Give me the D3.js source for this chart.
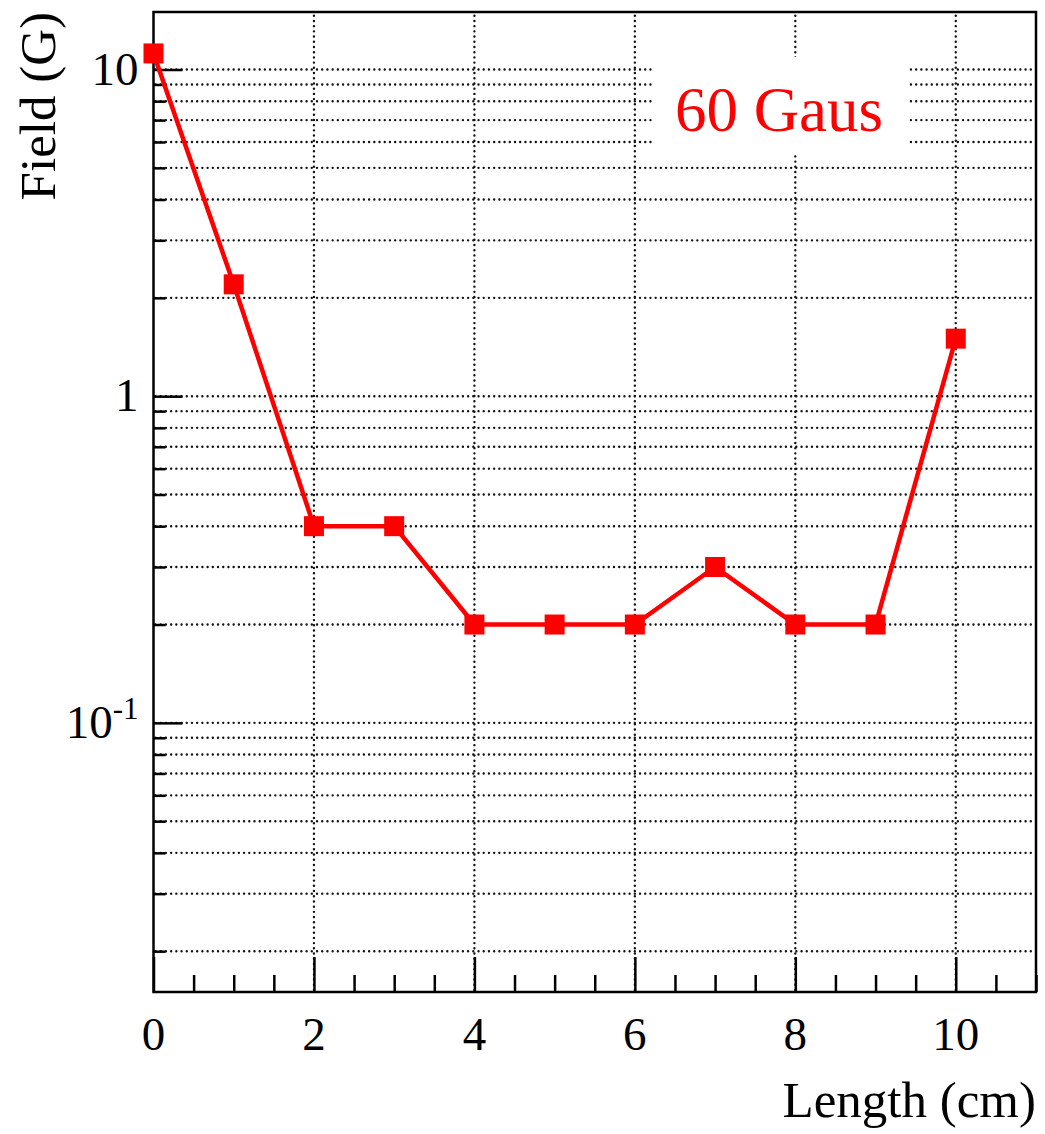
<!DOCTYPE html>
<html>
<head>
<meta charset="utf-8">
<script src="https://cdn.jsdelivr.net/npm/d3@7"></script>
<style>
  html, body { margin: 0; padding: 0; background: #fff; }
  svg { display: block; }
  text { font-family: "Liberation Serif", "Times New Roman", serif; fill: #000; }
</style>
</head>
<body>
<svg id="chart" width="1045" height="1134"></svg>
<script>
// Field along the length, measured every centimetre
const lengths = [0, 1, 2, 3, 4, 5, 6, 7, 8, 9, 10];
const field   = [11.2, 2.2, 0.4, 0.4, 0.2, 0.2, 0.2, 0.3, 0.2, 0.2, 1.5];

const xMajorTicks = [0, 2, 4, 6, 8, 10];
const xTickLabels = ["0", "2", "4", "6", "8", "10"];
const yMajorTicks = [10, 1, 0.1];
const yTickLabels = [["10", ""], ["1", ""], ["10", "-1"]];

const xTitle = "Length (cm)";
const yTitle = "Field (G)";
const legendText = "60 Gaus";

const frame = { left: 153.5, right: 1036, top: 12, bottom: 992 };

const svg = d3.select("#chart");

const x = d3.scaleLinear().domain([0, 11]).range([frame.left, frame.right]);
const y = d3.scaleLog().domain([0.015, 15]).range([frame.bottom, frame.top]);

// minor ticks: 2..9 per decade on y, every 0.5 on x
const yMinor = [];
[0.01, 0.1, 1, 10].forEach(d => {
  for (let k = 2; k <= 9; k++) {
    const v = d * k;
    if (v >= 0.015 && v <= 15) yMinor.push(v);
  }
});
const yAllTicks = yMajorTicks.concat(yMinor);
const xMinor = d3.range(0, 11.01, 0.5).filter(v => v % 2 !== 0);

// grid of round dots
const grid = svg.append("g").attr("stroke", "#111").attr("stroke-width", 2.4)
  .attr("stroke-linecap", "round")
  .attr("stroke-dasharray", "0.01,5.2").attr("fill", "none");
grid.selectAll("line.h").data(yAllTicks).join("line")
  .attr("class", "h")
  .attr("x1", frame.left + 2).attr("x2", frame.right - 2)
  .attr("y1", d => y(d)).attr("y2", d => y(d));
grid.selectAll("line.v").data(xMajorTicks.filter(d => d > 0)).join("line")
  .attr("class", "v")
  .attr("x1", d => x(d)).attr("x2", d => x(d))
  .attr("y1", frame.bottom - 2).attr("y2", frame.top + 2);

// legend box covers the grid
const legendG = svg.append("g");
legendG.append("rect")
  .attr("x", 652).attr("y", 57).attr("width", 256).attr("height", 98)
  .attr("fill", "#fff");
legendG.append("text")
  .attr("x", 779).attr("y", 131)
  .attr("text-anchor", "middle")
  .attr("font-size", 63)
  .style("fill", "#ff0000")
  .text(legendText);

// axes
function styleAxis(g) {
  g.select(".domain").remove();
  g.selectAll(".tick line").attr("stroke", "#000").attr("stroke-width", 2.5);
}

const xAxisMinor = d3.axisTop(x).tickValues(xMinor).tickSize(17).tickFormat("");
svg.append("g").attr("transform", `translate(0,${frame.bottom})`).call(xAxisMinor).call(styleAxis);

const xAxisMajor = d3.axisTop(x).tickValues(xMajorTicks).tickSize(35).tickFormat("");
svg.append("g").attr("transform", `translate(0,${frame.bottom})`).call(xAxisMajor).call(styleAxis);

const yAxisMinor = d3.axisRight(y).tickValues(yMinor).tickSize(12).tickFormat("");
svg.append("g").attr("transform", `translate(${frame.left},0)`).call(yAxisMinor).call(styleAxis);

const yAxisMajor = d3.axisRight(y).tickValues(yMajorTicks).tickSize(29).tickFormat("");
svg.append("g").attr("transform", `translate(${frame.left},0)`).call(yAxisMajor).call(styleAxis);

// tick labels
svg.append("g").selectAll("text").data(xMajorTicks).join("text")
  .attr("x", d => x(d)).attr("y", 1050)
  .attr("text-anchor", "middle")
  .attr("font-size", 47)
  .text((d, i) => xTickLabels[i]);

const yl = svg.append("g").selectAll("text").data(yMajorTicks).join("text")
  .attr("x", frame.left - 15)
  .attr("y", d => y(d) + 15)
  .attr("text-anchor", "end")
  .attr("font-size", 47);
yl.each(function(d, i) {
  const t = d3.select(this);
  const [base, sup] = yTickLabels[i];
  t.append("tspan").text(base);
  if (sup) {
    t.append("tspan").attr("font-size", 31).attr("dy", -19).text(sup);
  }
});

// frame
svg.append("rect")
  .attr("x", frame.left).attr("y", frame.top)
  .attr("width", frame.right - frame.left).attr("height", frame.bottom - frame.top)
  .attr("fill", "none").attr("stroke", "#000").attr("stroke-width", 2.5);

// data line and markers
const pts = lengths.map((l, i) => [l, field[i]]);
svg.append("path")
  .datum(pts)
  .attr("fill", "none")
  .attr("stroke", "#ff0000")
  .attr("stroke-width", 4.5)
  .attr("stroke-linejoin", "round")
  .attr("d", d3.line().x(d => x(d[0])).y(d => y(d[1])));

const ms = 20;
svg.append("g").selectAll("rect").data(pts).join("rect")
  .attr("x", d => x(d[0]) - ms / 2)
  .attr("y", d => y(d[1]) - ms / 2)
  .attr("width", ms).attr("height", ms)
  .attr("fill", "#ff0000");

// axis titles
svg.append("text")
  .attr("x", frame.right).attr("y", 1117)
  .attr("text-anchor", "end")
  .attr("font-size", 51)
  .text(xTitle);

svg.append("text")
  .attr("transform", `translate(55,${frame.top}) rotate(-90)`)
  .attr("text-anchor", "end")
  .attr("font-size", 51)
  .text(yTitle);
</script>
</body>
</html>
